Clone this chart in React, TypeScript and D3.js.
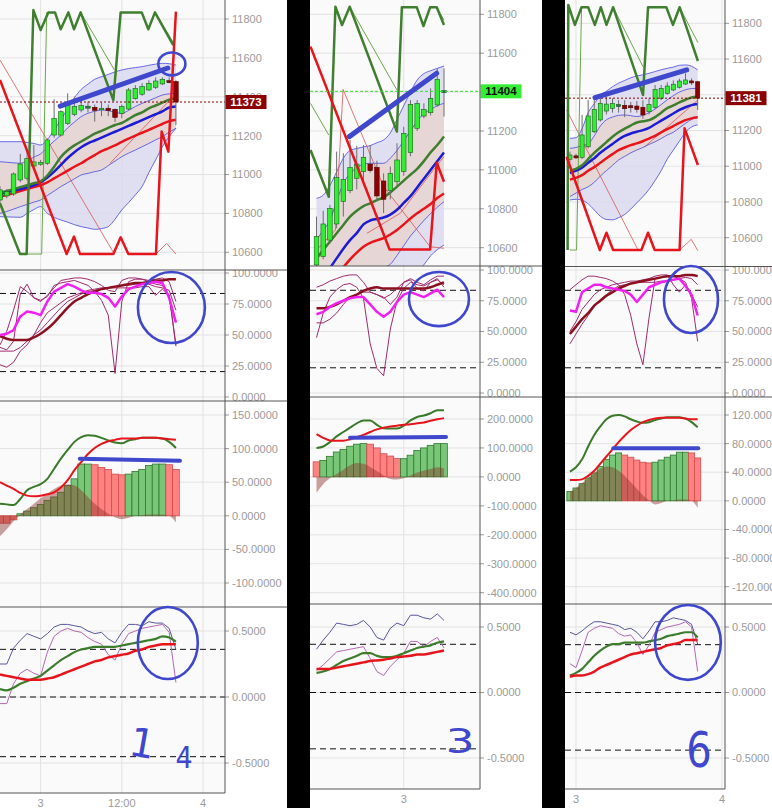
import React from 'react';
import * as d3 from 'd3';

type Candle = [number, number, number, number]; // open, high, low, close
type Pt = [number, number]; // bar index, value

// ---------------- left chart ----------------
const p1Candles: Candle[] = [
  [10869, 10940, 10850, 10921], [10890, 10925, 10878, 10912], [10900, 11010, 10890, 11003],
  [10972, 11106, 10960, 11054], [10981, 11120, 10970, 11082], [11044, 11152, 11035, 11065],
  [11053, 11075, 11045, 11063], [11058, 11185, 11050, 11178], [11203, 11387, 11190, 11289],
  [11203, 11330, 11195, 11323], [11263, 11418, 11255, 11358], [11310, 11400, 11300, 11349],
  [11332, 11380, 11320, 11356], [11346, 11375, 11320, 11347], [11346, 11360, 11272, 11330],
  [11337, 11370, 11300, 11341], [11341, 11360, 11300, 11329], [11335, 11340, 11270, 11294],
  [11315, 11360, 11290, 11349], [11337, 11445, 11330, 11435], [11390, 11460, 11385, 11443],
  [11413, 11470, 11405, 11452], [11435, 11485, 11430, 11469], [11449, 11500, 11440, 11481],
  [11466, 11500, 11460, 11490], [11478, 11500, 11470, 11477], [11478, 11485, 11255, 11373],
];
const p1Ema = [10905, 10915, 10925, 10935, 10945, 10955, 10965, 10995, 11040, 11090, 11125, 11150, 11170, 11190, 11210, 11225, 11240, 11255, 11265, 11285, 11305, 11320, 11340, 11355, 11370, 11385, 11392];
const p1Mid = [10900, 10910, 10918, 10926, 10935, 10945, 10960, 10985, 11015, 11050, 11085, 11115, 11140, 11160, 11175, 11190, 11205, 11220, 11235, 11250, 11265, 11280, 11295, 11310, 11325, 11345, 11350];
const p1Slow = [10885, 10895, 10905, 10915, 10925, 10935, 10945, 10960, 10980, 11000, 11020, 11040, 11058, 11080, 11100, 11120, 11135, 11150, 11168, 11185, 11200, 11215, 11230, 11245, 11260, 11275, 11282];
const p1OuterUp = [11169, 11169, 11169, 11169, 11165, 11160, 11152, 11180, 11230, 11281, 11340, 11395, 11438, 11465, 11490, 11503, 11515, 11528, 11538, 11545, 11550, 11555, 11562, 11568, 11572, 11570, 11563];
const p1OuterLo = [10783, 10782, 10781, 10780, 10800, 10820, 10835, 10800, 10780, 10766, 10755, 10742, 10732, 10725, 10718, 10722, 10732, 10770, 10818, 10855, 10895, 10938, 11010, 11075, 11143, 11195, 11238];
const p1InnerUp = [11066, 11063, 11060, 11058, 11070, 11090, 11106, 11140, 11172, 11203, 11240, 11270, 11298, 11315, 11325, 11332, 11328, 11320, 11315, 11330, 11350, 11366, 11380, 11395, 11409, 11415, 11418];
const p1InnerLo = [10800, 10810, 10822, 10835, 10846, 10858, 10869, 10892, 10915, 10938, 10958, 10978, 10998, 11006, 11015, 11023, 11046, 11069, 11092, 11110, 11126, 11143, 11160, 11178, 11195, 11218, 11238];
const p1ZzGreen: Pt[] = [[0, 10852], [2.96, 10591], [3.94, 10591], [4.93, 11846], [6.01, 11743], [7.14, 11834], [8.13, 11834], [8.97, 11747], [10.1, 11834], [10.94, 11747], [11.92, 11834], [16.75, 11383], [17.83, 11834], [20.94, 11834], [21.92, 11747], [22.9, 11834], [25.6, 11666]];
const p1ZzGreenThin: Pt[][] = [[[3.94, 10591], [6.16, 10591], [6.9, 11834]], [[11.92, 11834], [16.9, 11538]], [[22.9, 11834], [25.6, 11680]]];
const p1ZzRed: Pt[] = [[0, 11486], [9.85, 10591], [10.94, 10681], [11.82, 10591], [16.75, 10591], [17.83, 10677], [18.97, 10591], [23.05, 10591], [23.89, 11221], [24.88, 11118], [26, 11838]];
const p1RedThin: Pt[][] = [[[0, 11589], [16.75, 10600]], [[16.26, 11058], [25.6, 11401]], [[23.05, 10591], [24.63, 10646], [26, 10591]]];
const p1StochDark = [49, 47, 46, 46, 46, 48, 51, 55, 60, 66, 72, 77, 80, 83, 85, 87, 88, 89, 90, 91, 92, 92, 93, 94, 94, 95, 95];
const p1StochMag = [50, 51, 54, 65, 69, 68, 66, 77, 85, 88, 91, 89, 86, 84, 84, 83, 80, 73, 81, 87, 89, 91, 92, 93, 92, 80, 60];
const p1StochThin = [
  [40, 38, 45, 83, 91, 80, 78, 81, 90, 92, 93, 94, 92, 90, 85, 78, 66, 19, 77, 93, 95, 95, 93, 91, 90, 82, 41],
  [42, 53, 70, 89, 85, 80, 77, 82, 88, 94, 95, 96, 96, 95, 93, 90, 86, 85, 94, 96, 96, 95, 94, 95, 96, 93, 77],
  [26, 24, 28, 37, 42, 50, 60, 68, 72, 76, 80, 82, 84, 86, 87, 88, 88, 88, 88, 88, 88, 89, 89, 82, 87, 82, 42],
  [37, 37, 37, 40, 45, 50, 54, 60, 66, 72, 77, 80, 83, 85, 86, 87, 88, 89, 90, 90, 91, 91, 91, 89, 88, 86, 70],
];
const p1Hist = [-11, -11, -6, 3, 7, 12, 17, 23, 28, 35, 45, 55, 77, 77, 76, 72, 69, 62, 61, 62, 66, 69, 75, 77, 77, 76, 69];
const p1HistUp = [0, 0, 0, 1, 1, 1, 1, 1, 1, 1, 1, 1, 1, 1, 0, 0, 0, 0, 0, 1, 1, 1, 1, 1, 1, 0, 0];
const p1HistShade = [-30, -20, -8, 2, 10, 18, 26, 33, 40, 45, 47, 45, 38, 28, 18, 10, 3, -2, -5, -3, 0, 1, 2, 2, 2, 0, -10];
const p1MacdFast = [18, 17, 16, 25, 38, 43, 47, 55, 70, 85, 98, 110, 117, 120, 119, 116, 112, 109, 108, 112, 114, 116, 116, 116, 115, 110, 101];
const p1MacdSlow = [50, 45, 40, 34, 30, 29, 30, 32, 35, 42, 53, 68, 80, 92, 101, 107, 111, 113, 115, 115, 115, 116, 116, 116, 115, 114, 113];
const p1BotA = [0.25, 0.25, 0.37, 0.43, 0.48, 0.46, 0.44, 0.48, 0.53, 0.55, 0.55, 0.54, 0.53, 0.5, 0.48, 0.49, 0.44, 0.41, 0.49, 0.55, 0.55, 0.54, 0.57, 0.56, 0.56, 0.52, 0.36];
const p1BotB = [-0.05, -0.05, 0.1, 0.18, 0.21, 0.18, 0.16, 0.34, 0.46, 0.5, 0.52, 0.5, 0.49, 0.45, 0.42, 0.4, 0.32, 0.28, 0.4, 0.48, 0.5, 0.52, 0.53, 0.54, 0.55, 0.49, 0.11];
const p1BotGreen = [0.06, 0.05, 0.07, 0.1, 0.12, 0.14, 0.16, 0.2, 0.24, 0.28, 0.31, 0.34, 0.36, 0.37, 0.38, 0.38, 0.38, 0.38, 0.39, 0.4, 0.41, 0.42, 0.43, 0.44, 0.46, 0.45, 0.42];
const p1BotRed = [0.17, 0.16, 0.15, 0.14, 0.13, 0.13, 0.13, 0.14, 0.15, 0.17, 0.19, 0.21, 0.23, 0.25, 0.27, 0.28, 0.3, 0.31, 0.32, 0.33, 0.35, 0.36, 0.38, 0.39, 0.4, 0.4, 0.4];
const p1BotLevels = [0.361, 0, -0.452];
const p1MacdTicks = [-100, -50, 0, 50, 100, 150];
const p1TimeTicks = [{ i: 6, label: '3' }, { i: 18, label: '12:00' }, { i: 30, label: '4' }];
const p1Last = 11373;
const p1Trend: Pt[] = [[8.9, 11352], [24.8, 11548]];
const p1MacdMark: Pt[] = [[11.8, 84.8], [26.6, 81.8]];

// ---------------- middle chart ----------------
const p2Candles: Candle[] = [
  [10511, 10760, 10500, 10657], [10554, 10790, 10540, 10722], [10639, 10820, 10620, 10802],
  [10722, 11094, 10700, 10960], [10837, 11086, 10760, 10951], [10893, 11154, 10880, 11013],
  [10957, 11124, 10900, 11030], [10991, 11128, 10920, 11065], [11030, 11128, 10986, 10996],
  [11013, 11047, 10840, 10866], [10943, 10982, 10778, 10849], [10893, 11017, 10849, 10982],
  [10939, 11137, 10918, 11051], [10991, 11222, 10970, 11188], [11089, 11359, 11070, 11337],
  [11214, 11359, 11200, 11342], [11277, 11342, 11265, 11311], [11294, 11419, 11280, 11368],
  [11334, 11522, 11325, 11466], [11401, 11522, 11274, 11404],
];
const p2Ema = [10545, 10588, 10631, 10674, 10717, 10760, 10790, 10814, 10828, 10845, 10859, 10884, 10914, 10945, 10975, 11005, 11045, 11090, 11128, 11172];
const p2Mid = [10400, 10440, 10495, 10545, 10595, 10639, 10675, 10720, 10740, 10748, 10755, 10770, 10795, 10830, 10865, 10910, 10955, 11000, 11045, 11089];
const p2Slow = [10380, 10410, 10440, 10470, 10500, 10540, 10575, 10605, 10625, 10638, 10649, 10668, 10691, 10720, 10750, 10777, 10800, 10825, 10855, 10879];
const p2OuterUp = [10854, 10870, 10920, 10990, 11060, 11100, 11110, 11118, 11125, 11140, 11154, 11190, 11260, 11330, 11400, 11462, 11495, 11510, 11522, 11534];
const p2OuterLo = [10180, 10195, 10215, 10225, 10240, 10255, 10262, 10270, 10285, 10300, 10318, 10345, 10372, 10405, 10432, 10470, 10512, 10558, 10590, 10614];
const p2InnerUp = [10640, 10690, 10740, 10840, 10930, 10982, 11010, 11030, 11034, 11034, 11034, 11060, 11100, 11150, 11200, 11250, 11290, 11310, 11330, 11342];
const p2InnerLo = [10290, 10318, 10345, 10362, 10385, 10398, 10420, 10445, 10458, 10480, 10498, 10515, 10560, 10610, 10660, 10700, 10740, 10775, 10808, 10837];
const p2ZzGreen: Pt[] = [[-0.89, 11102], [1.83, 10862], [2.82, 11839], [3.81, 11745], [4.95, 11839], [11.98, 11197], [12.72, 11836], [14.95, 11836], [15.94, 11740], [16.93, 11836], [17.92, 11836], [19, 11745]];
const p2ZzGreenThin: Pt[][] = [[[-0.89, 11342], [1.83, 11179]], [[4.95, 11839], [11.98, 11411]], [[17.92, 11836], [19, 11770]]];
const p2ZzRed: Pt[] = [[-0.89, 11634], [10.89, 10591], [16.93, 10591], [17.92, 11037], [19, 10939]];
const p2RedThin: Pt[][] = [[[0, 10588], [2.82, 10691], [3.96, 11414], [10, 10914], [16.93, 10605], [19, 10597]], [[7.52, 10674], [12.48, 10777], [17.43, 11000], [19, 11068]]];
const p2StochDark = [69, 69, 70, 72, 75, 78, 80, 83, 85, 86, 85, 85, 85, 85, 85, 85, 85, 86, 88, 90];
const p2StochMag = [64, 66, 70, 73, 75, 77, 78, 78, 72, 66, 62, 66, 74, 80, 82, 80, 78, 81, 84, 78];
const p2StochThin = [
  [45, 65, 78, 84, 88, 89, 86, 77, 40, 20, 14, 52, 75, 85, 90, 88, 87, 90, 92, 88],
  [86, 88, 91, 93, 95, 96, 96, 90, 82, 80, 77, 80, 85, 90, 93, 90, 88, 92, 95, 95],
  [57, 57, 60, 65, 72, 78, 80, 82, 82, 80, 78, 72, 78, 90, 92, 85, 83, 90, 93, 86],
];
const p2Hist = [52, 57, 71, 86, 95, 106, 113, 115, 113, 100, 80, 72, 63, 63, 75, 91, 100, 109, 115, 115];
const p2HistUp = [0, 1, 1, 1, 1, 1, 1, 1, 0, 0, 0, 0, 0, 1, 1, 1, 1, 1, 1, 1];
const p2HistShade = [-55, -25, -5, 10, 25, 40, 48, 45, 34, 20, 5, -7, -9, -5, 5, 15, 22, 27, 33, 29];
const p2MacdFast = [100, 105, 120, 140, 155, 170, 185, 195, 195, 180, 168, 167, 167, 177, 195, 207, 212, 220, 230, 230];
const p2MacdSlow = [148, 135, 126, 125, 125, 130, 138, 145, 155, 164, 170, 174, 177, 180, 182, 185, 188, 194, 199, 203];
const p2BotA = [0.33, 0.4, 0.46, 0.53, 0.52, 0.51, 0.52, 0.55, 0.5, 0.42, 0.4, 0.49, 0.53, 0.51, 0.59, 0.59, 0.57, 0.56, 0.6, 0.55];
const p2BotB = [0.17, 0.21, 0.26, 0.31, 0.32, 0.33, 0.34, 0.35, 0.26, 0.16, 0.13, 0.2, 0.25, 0.3, 0.39, 0.39, 0.35, 0.39, 0.42, 0.34];
const p2BotGreen = [0.15, 0.16, 0.18, 0.21, 0.24, 0.26, 0.28, 0.3, 0.3, 0.28, 0.27, 0.27, 0.28, 0.3, 0.32, 0.34, 0.35, 0.36, 0.38, 0.39];
const p2BotRed = [0.18, 0.18, 0.18, 0.19, 0.2, 0.21, 0.22, 0.23, 0.24, 0.245, 0.25, 0.26, 0.27, 0.275, 0.28, 0.29, 0.29, 0.3, 0.31, 0.32];
const p2BotLevels = [0.368, 0, -0.43];
const p2MacdTicks = [-400, -300, -200, -100, 0, 100, 200];
const p2TimeTicks = [{ i: 13, label: '3' }];
const p2Last = 11404;
const p2Trend: Pt[] = [[4.89, 11171], [17.9, 11497]];
const p2MacdMark: Pt[] = [[5.0, 135], [19.3, 138]];

// ---------------- right chart ----------------
const p3Candles: Candle[] = [
  [11039, 11082, 11020, 11063], [11053, 11070, 11040, 11052], [11050, 11287, 11040, 11175],
  [11109, 11371, 11100, 11281], [11193, 11370, 11185, 11318], [11259, 11390, 11250, 11352],
  [11309, 11390, 11290, 11348], [11324, 11380, 11300, 11352], [11339, 11370, 11300, 11340],
  [11341, 11370, 11275, 11322], [11333, 11360, 11300, 11333], [11337, 11365, 11300, 11318],
  [11330, 11370, 11265, 11287], [11305, 11380, 11290, 11346], [11330, 11455, 11320, 11430],
  [11380, 11455, 11370, 11436], [11408, 11470, 11400, 11449], [11427, 11480, 11420, 11459],
  [11442, 11490, 11435, 11477], [11460, 11520, 11455, 11483], [11473, 11492, 11455, 11471],
  [11473, 11478, 11315, 11381],
];
const p3Ema = [10975, 10985, 11005, 11040, 11075, 11105, 11135, 11165, 11190, 11210, 11228, 11245, 11252, 11258, 11275, 11300, 11325, 11340, 11357, 11372, 11385, 11390];
const p3Mid = [10962, 10975, 10992, 11020, 11045, 11075, 11100, 11125, 11150, 11170, 11183, 11193, 11202, 11215, 11235, 11255, 11275, 11295, 11315, 11330, 11342, 11348];
const p3Slow = [10925, 10935, 10950, 10975, 10995, 11020, 11045, 11068, 11090, 11105, 11118, 11128, 11140, 11155, 11170, 11190, 11208, 11225, 11242, 11258, 11268, 11274];
const p3OuterUp = [11156, 11160, 11210, 11300, 11350, 11395, 11420, 11445, 11465, 11480, 11495, 11505, 11512, 11520, 11530, 11540, 11548, 11555, 11565, 11567, 11560, 11539];
const p3OuterLo = [10811, 10815, 10810, 10790, 10755, 10720, 10702, 10700, 10712, 10730, 10760, 10795, 10830, 10870, 10920, 10975, 11040, 11090, 11140, 11190, 11220, 11231];
const p3InnerUp = [11100, 11105, 11115, 11125, 11170, 11225, 11260, 11275, 11285, 11287, 11283, 11278, 11285, 11300, 11320, 11345, 11372, 11395, 11415, 11428, 11435, 11436];
const p3InnerLo = [10830, 10850, 10870, 10885, 10910, 10945, 10975, 11005, 11035, 11055, 11075, 11091, 11105, 11122, 11137, 11155, 11175, 11190, 11215, 11240, 11262, 11277];
const p3ZzGreen: Pt[] = [[-0.38, 10531], [-0.27, 11903], [0.82, 11791], [1.91, 11890], [3.0, 11890], [4.1, 11791], [5.08, 11890], [6.01, 11791], [7.1, 11890], [12.02, 11399], [12.84, 11890], [15.85, 11890], [16.94, 11791], [18.03, 11890], [21.04, 11589]];
const p3ZzGreenThin: Pt[][] = [[[0, 10531], [1.09, 10531], [1.91, 11890]], [[7.1, 11890], [12.02, 11557]], [[18.03, 11890], [21.04, 11692]]];
const p3ZzRed: Pt[] = [[-0.55, 11053], [4.92, 10531], [6.01, 10628], [7.1, 10531], [11.75, 10531], [12.84, 10628], [13.93, 10531], [18.03, 10531], [18.85, 11212], [21.04, 11007]];
const p3RedThin: Pt[][] = [[[-0.55, 11315], [11.2, 10531]], [[12.3, 11109], [21.04, 11371]], [[18.03, 10531], [19.95, 10591], [21.04, 10527]]];
const p3StochDark = [48, 54, 60, 65, 71, 75, 79, 82, 85, 87, 89, 90, 91, 92, 93, 94, 95, 95, 95, 96, 96, 95];
const p3StochMag = [67, 66, 82, 85, 88, 88, 86, 85, 84, 83, 80, 74, 80, 86, 88, 90, 91, 92, 93, 87, 80, 63];
const p3StochThin = [
  [84, 88, 92, 95, 95, 94, 93, 91, 88, 80, 63, 40, 23, 61, 93, 94, 95, 95, 93, 90, 77, 42],
  [50, 58, 68, 74, 80, 84, 86, 88, 89, 90, 91, 91, 92, 93, 95, 96, 96, 88, 82, 88, 80, 70],
  [40, 48, 56, 63, 70, 76, 80, 84, 87, 88, 89, 90, 90, 90, 90, 91, 91, 92, 93, 94, 93, 88],
];
const p3Hist = [13, 18, 24, 32, 39, 48, 58, 64, 67, 64, 61, 57, 54, 53, 54, 57, 61, 64, 68, 68, 67, 60];
const p3HistUp = [1, 1, 1, 1, 1, 1, 1, 1, 1, 0, 0, 0, 0, 0, 1, 1, 1, 1, 1, 1, 0, 0];
const p3HistShade = [12, 18, 25, 32, 39, 45, 48, 47, 42, 35, 26, 17, 8, 1, -5, -3, 0, 1, 2, 2, 0, -10];
const p3MacdFast = [41, 47, 58, 76, 92, 104, 114, 119, 120, 118, 114, 111, 109, 110, 113, 115, 117, 117, 117, 115, 110, 103];
const p3MacdSlow = [29, 29, 30, 35, 42, 52, 62, 72, 82, 91, 99, 105, 110, 113, 115, 116, 116, 116, 116, 115, 114, 114];
const p3BotA = [0.46, 0.44, 0.47, 0.51, 0.54, 0.54, 0.53, 0.52, 0.51, 0.48, 0.49, 0.46, 0.41, 0.47, 0.54, 0.54, 0.55, 0.57, 0.56, 0.55, 0.52, 0.37];
const p3BotB = [0.22, 0.19, 0.32, 0.46, 0.49, 0.51, 0.5, 0.49, 0.45, 0.43, 0.44, 0.38, 0.29, 0.36, 0.46, 0.48, 0.5, 0.51, 0.52, 0.54, 0.5, 0.16];
const p3BotGreen = [0.13, 0.15, 0.18, 0.23, 0.28, 0.32, 0.35, 0.37, 0.37, 0.38, 0.38, 0.38, 0.38, 0.39, 0.4, 0.41, 0.43, 0.44, 0.45, 0.46, 0.46, 0.42];
const p3BotRed = [0.12, 0.13, 0.13, 0.14, 0.16, 0.19, 0.21, 0.23, 0.25, 0.27, 0.29, 0.3, 0.31, 0.32, 0.33, 0.34, 0.36, 0.37, 0.38, 0.4, 0.4, 0.4];
const p3BotLevels = [0.365, 0, -0.44];
const p3MacdTicks = [-120, -80, -40, 0, 40, 80, 120];
const p3TimeTicks = [{ i: 1, label: '3' }, { i: 25, label: '4' }];
const p3Last = 11381;
const p3Trend: Pt[] = [[4.12, 11384], [19.2, 11539]];
const p3MacdMark: Pt[] = [[7.13, 73.5], [21.1, 73.5]];

const priceTicks = [10600, 10800, 11000, 11200, 11400, 11600, 11800];
const oscTicks = [0, 25, 50, 75, 100];
const oscLevels = [83.5, 20.5];
const botTicks = [-0.5, 0, 0.5];

const FONT = "'Liberation Sans', Arial, sans-serif";
const INK = '#3f48cc';
const RED = '#e8141c';

type Ring = [number, number, number, number]; // cx, cy, rx, ry in data units
type Note = { text: string; at: Pt; size: number; sx: number; rot: number };

interface PanelCfg {
  id: string;
  left: number; plotRight: number; right: number;
  xDomain: [number, number]; xRange: [number, number];
  rows: number[];
  priceRange: [number, number]; oscRange: [number, number];
  macdDomain: [number, number]; macdRange: [number, number]; macdTicks: number[];
  botRange: [number, number]; botLevels: number[];
  xLabelY: number; timeTicks: { i: number; label: string }[];
  candles: Candle[]; ema: number[]; mid: number[]; slow: number[];
  outerUp: number[]; outerLo: number[]; innerUp: number[]; innerLo: number[];
  zzGreen: Pt[]; zzGreenThin: Pt[][]; zzRed: Pt[]; redThin: Pt[][];
  stochDark: number[]; stochMag: number[]; stochThin: number[][];
  hist: number[]; histUp: number[]; histShade: number[]; macdFast: number[]; macdSlow: number[];
  botA: number[]; botB: number[]; botGreen: number[]; botRed: number[];
  last: number; lastFill: string; lastText: string; lastLine: string; lastDash: string;
  trend: Pt[]; macdMark: Pt[];
  priceRing?: Ring; oscRing?: Ring; botRing?: Ring;
  notes: Note[];
}

const panels: PanelCfg[] = [
  {
    id: 'a', left: 0, plotRight: 225, right: 287,
    xDomain: [0, 30], xRange: [0, 203], rows: [0, 270, 401, 607, 793],
    priceRange: [252.3, 19], oscRange: [397, 273],
    macdDomain: [-100, 150], macdRange: [583, 415], macdTicks: p1MacdTicks,
    botRange: [763, 631], botLevels: p1BotLevels, xLabelY: 807, timeTicks: p1TimeTicks,
    candles: p1Candles, ema: p1Ema, mid: p1Mid, slow: p1Slow,
    outerUp: p1OuterUp, outerLo: p1OuterLo, innerUp: p1InnerUp, innerLo: p1InnerLo,
    zzGreen: p1ZzGreen, zzGreenThin: p1ZzGreenThin, zzRed: p1ZzRed, redThin: p1RedThin,
    stochDark: p1StochDark, stochMag: p1StochMag, stochThin: p1StochThin,
    hist: p1Hist, histUp: p1HistUp, histShade: p1HistShade, macdFast: p1MacdFast, macdSlow: p1MacdSlow,
    botA: p1BotA, botB: p1BotB, botGreen: p1BotGreen, botRed: p1BotRed,
    last: p1Last, lastFill: '#8b0000', lastText: '#fff', lastLine: '#8b0000', lastDash: '2,2',
    trend: p1Trend, macdMark: p1MacdMark,
    priceRing: [25.4, 11569, 2.0, 59], oscRing: [25.33, 72.2, 4.95, 28.6], botRing: [24.8, 0.409, 4.43, 0.273],
    notes: [
      { text: '1', at: [20.7, -0.455], size: 40, sx: 1, rot: 10 },
      { text: '4', at: [27.2, -0.54], size: 30, sx: 0.9, rot: 0 },
    ],
  },
  {
    id: 'b', left: 310, plotRight: 480, right: 542,
    xDomain: [0, 19], xRange: [316.5, 444], rows: [0, 266, 397, 604, 789],
    priceRange: [247.7, 14.3], oscRange: [393, 270],
    macdDomain: [-400, 200], macdRange: [592.7, 419], macdTicks: p2MacdTicks,
    botRange: [758, 627], botLevels: p2BotLevels, xLabelY: 803, timeTicks: p2TimeTicks,
    candles: p2Candles, ema: p2Ema, mid: p2Mid, slow: p2Slow,
    outerUp: p2OuterUp, outerLo: p2OuterLo, innerUp: p2InnerUp, innerLo: p2InnerLo,
    zzGreen: p2ZzGreen, zzGreenThin: p2ZzGreenThin, zzRed: p2ZzRed, redThin: p2RedThin,
    stochDark: p2StochDark, stochMag: p2StochMag, stochThin: p2StochThin,
    hist: p2Hist, histUp: p2HistUp, histShade: p2HistShade, macdFast: p2MacdFast, macdSlow: p2MacdSlow,
    botA: p2BotA, botB: p2BotB, botGreen: p2BotGreen, botRed: p2BotRed,
    last: p2Last, lastFill: '#33ee33', lastText: '#111', lastLine: '#33dd33', lastDash: '3,2',
    trend: p2Trend, macdMark: p2MacdMark,
    oscRing: [18.25, 76.4, 4.47, 22],
    notes: [{ text: '3', at: [21.4, -0.46], size: 34, sx: 1.35, rot: 0 }],
  },
  {
    id: 'c', left: 565, plotRight: 725, right: 772,
    xDomain: [1, 25], xRange: [576, 722], rows: [0, 266.5, 397, 604, 789],
    priceRange: [237.7, 23.3], oscRange: [393, 270],
    macdDomain: [-120, 120], macdRange: [586.7, 415], macdTicks: p3MacdTicks,
    botRange: [758, 627], botLevels: p3BotLevels, xLabelY: 803, timeTicks: p3TimeTicks,
    candles: p3Candles, ema: p3Ema, mid: p3Mid, slow: p3Slow,
    outerUp: p3OuterUp, outerLo: p3OuterLo, innerUp: p3InnerUp, innerLo: p3InnerLo,
    zzGreen: p3ZzGreen, zzGreenThin: p3ZzGreenThin, zzRed: p3ZzRed, redThin: p3RedThin,
    stochDark: p3StochDark, stochMag: p3StochMag, stochThin: p3StochThin,
    hist: p3Hist, histUp: p3HistUp, histShade: p3HistShade, macdFast: p3MacdFast, macdSlow: p3MacdSlow,
    botA: p3BotA, botB: p3BotB, botGreen: p3BotGreen, botRed: p3BotRed,
    last: p3Last, lastFill: '#8b0000', lastText: '#fff', lastLine: '#8b0000', lastDash: '2,2',
    trend: p3Trend, macdMark: p3MacdMark,
    oscRing: [19.9, 76, 4.44, 27.2], botRing: [19.4, 0.382, 5.4, 0.286],
    notes: [{ text: '6', at: [21.2, -0.569], size: 50, sx: 0.8, rot: 0 }],
  },
];

const fmt4 = (v: number) => v.toFixed(4);
const fmt0 = (v: number) => String(v);

function Panel({ p }: { p: PanelCfg }) {
  const [rTop, rOsc, rMacd, rBot, rEnd] = p.rows;
  const x = d3.scaleLinear().domain(p.xDomain).range(p.xRange);
  const step = x(1) - x(0);
  const yP = d3.scaleLinear().domain([10600, 11800]).range(p.priceRange);
  const yO = d3.scaleLinear().domain([0, 100]).range(p.oscRange);
  const yM = d3.scaleLinear().domain(p.macdDomain).range(p.macdRange);
  const yB = d3.scaleLinear().domain([-0.5, 0.5]).range(p.botRange);

  // price labels hidden behind the last-price box are left out
  const shownPrice = priceTicks.filter(t => Math.abs(yP(t) - yP(p.last)) > 4.5);
  const rows = [
    { key: 'price', top: rTop, bottom: rOsc, y: yP, ticks: priceTicks, labels: shownPrice, fmt: fmt0 },
    { key: 'osc', top: rOsc, bottom: rMacd, y: yO, ticks: oscTicks, labels: oscTicks, fmt: fmt4 },
    { key: 'macd', top: rMacd, bottom: rBot, y: yM, ticks: p.macdTicks, labels: p.macdTicks, fmt: fmt4 },
    { key: 'bot', top: rBot, bottom: rEnd, y: yB, ticks: botTicks, labels: botTicks, fmt: fmt4 },
  ];

  const series = (y: d3.ScaleLinear<number, number>, data: number[], curve: d3.CurveFactory = d3.curveLinear) =>
    d3.line<number>().x((_, i) => x(i)).y(d => y(d)).curve(curve)(data) || '';
  const path = (y: d3.ScaleLinear<number, number>, data: Pt[]) =>
    d3.line<Pt>().x(d => x(d[0])).y(d => y(d[1]))(data) || '';
  const band = (hi: number[], lo: number[]) =>
    d3.area<number>().x((_, i) => x(i)).y0((_, i) => yP(lo[i])).y1(d => yP(d)).curve(d3.curveMonotoneX)(hi) || '';
  const shade = d3.area<number>().x((_, i) => x(i)).y0(yM(0)).y1(d => yM(d)).curve(d3.curveMonotoneX)(p.histShade) || '';
  const ring = (y: d3.ScaleLinear<number, number>, r: Ring) => (
    <ellipse cx={x(r[0])} cy={y(r[1])} rx={Math.abs(x(r[0] + r[2]) - x(r[0]))} ry={Math.abs(y(r[1] + r[3]) - y(r[1]))}
      fill="none" stroke={INK} strokeWidth={2.6} />
  );
  const clip = (k: string) => `url(#${p.id}-${k})`;
  const plotW = p.plotRight - p.left;
  const bw = step * 0.68;

  return (
    <g>
      <defs>
        {rows.map(r => (
          <clipPath id={`${p.id}-${r.key}`} key={r.key}>
            <rect x={p.left} y={r.top} width={plotW} height={r.bottom - r.top} />
          </clipPath>
        ))}
        {rows.map(r => (
          <clipPath id={`${p.id}-${r.key}-ax`} key={r.key + 'ax'}>
            <rect x={p.plotRight} y={r.top} width={p.right - p.plotRight} height={r.bottom - r.top} />
          </clipPath>
        ))}
      </defs>
      <rect x={p.left} y={0} width={p.right - p.left} height={808} fill="#ffffff" />
      <rect x={p.left} y={0} width={plotW} height={rEnd} fill="#fafafa" />

      {/* grid */}
      {rows.map(r => (
        <g key={'g' + r.key} clipPath={clip(r.key)}>
          {r.ticks.map(t => (
            <line key={t} x1={p.left} x2={p.plotRight} y1={r.y(t)} y2={r.y(t)} stroke="#e2e2e2" />
          ))}
          {p.timeTicks.map(t => (
            <line key={t.label} x1={x(t.i)} x2={x(t.i)} y1={r.top} y2={r.bottom} stroke="#e2e2e2" />
          ))}
        </g>
      ))}

      {/* price */}
      <g clipPath={clip('price')}>
        <path d={band(p.outerUp, p.outerLo)} fill="#d9d9ef" fillOpacity={0.85} />
        <path d={band(p.innerUp, p.innerLo)} fill="#e9d3cc" fillOpacity={0.75} />
        {[p.outerUp, p.outerLo, p.innerUp, p.innerLo].map((s, k) => (
          <path key={k} d={series(yP, s, d3.curveMonotoneX)} fill="none" stroke="#4848e0" strokeWidth={0.8} />
        ))}
        {p.redThin.map((s, k) => <path key={k} d={path(yP, s)} fill="none" stroke="#d84a4a" strokeOpacity={0.75} strokeWidth={1} />)}
        {p.zzGreenThin.map((s, k) => <path key={k} d={path(yP, s)} fill="none" stroke="#6aa84a" strokeWidth={1} />)}
        <path d={series(yP, p.slow, d3.curveMonotoneX)} fill="none" stroke={RED} strokeWidth={2.5} />
        <path d={series(yP, p.mid, d3.curveMonotoneX)} fill="none" stroke="#1c1cd2" strokeWidth={2.5} />
        <path d={series(yP, p.ema, d3.curveMonotoneX)} fill="none" stroke="#3e7e2e" strokeWidth={2.5} />
        {p.candles.map((c, i) => {
          const [o, h, l, cl] = c;
          const doji = Math.abs(cl - o) < 4;
          const up = cl > o;
          const top = yP(Math.max(o, cl));
          const bot = yP(Math.min(o, cl));
          const fill = doji ? (up ? '#2f6f4f' : '#7a1010') : up ? '#2ef02e' : '#8b0000';
          return (
            <g key={i}>
              <line x1={x(i)} x2={x(i)} y1={yP(h)} y2={yP(l)} stroke="#6e6e6e" strokeWidth={1} />
              <rect x={x(i) - bw / 2} y={doji ? (top + bot) / 2 - 1 : top} width={bw} height={doji ? 2 : Math.max(1.5, bot - top)}
                fill={fill} stroke={up ? '#1b5c1b' : '#5a0000'} strokeWidth={0.6} />
            </g>
          );
        })}
        <path d={path(yP, p.zzGreen)} fill="none" stroke="#3f7f2f" strokeWidth={2.5} strokeLinejoin="round" />
        <path d={path(yP, p.zzRed)} fill="none" stroke={RED} strokeWidth={2.5} strokeLinejoin="round" />
        <line x1={p.left} x2={p.plotRight} y1={yP(p.last)} y2={yP(p.last)} stroke={p.lastLine} strokeDasharray={p.lastDash} />
      </g>

      {/* oscillator */}
      <g clipPath={clip('osc')}>
        {oscLevels.map(v => (
          <line key={v} x1={p.left} x2={p.plotRight} y1={yO(v)} y2={yO(v)} stroke="#111" strokeDasharray="6,4" />
        ))}
        {p.stochThin.map((s, k) => <path key={k} d={series(yO, s)} fill="none" stroke="#a02a6e" strokeWidth={1} />)}
        <path d={series(yO, p.stochDark, d3.curveMonotoneX)} fill="none" stroke="#8b1020" strokeWidth={2.5} />
        <path d={series(yO, p.stochMag)} fill="none" stroke="#f020f0" strokeWidth={2.5} strokeLinejoin="round" />
      </g>

      {/* macd */}
      <g clipPath={clip('macd')}>
        {p.hist.map((v, i) => (
          <rect key={i} x={x(i) - step / 2} width={step} y={Math.min(yM(v), yM(0))} height={Math.abs(yM(v) - yM(0))}
            fill={p.histUp[i] ? '#79c679' : '#ff8282'} stroke={p.histUp[i] ? '#2e7a2e' : '#d84a4a'} strokeWidth={0.8} />
        ))}
        <path d={shade} fill="rgb(140,52,40)" fillOpacity={0.45} />
        <path d={series(yM, p.macdFast, d3.curveMonotoneX)} fill="none" stroke="#3a7a2a" strokeWidth={2} />
        <path d={series(yM, p.macdSlow, d3.curveMonotoneX)} fill="none" stroke={RED} strokeWidth={2} />
      </g>

      {/* bottom */}
      <g clipPath={clip('bot')}>
        {p.botLevels.map(v => (
          <line key={v} x1={p.left} x2={p.plotRight} y1={yB(v)} y2={yB(v)} stroke="#111" strokeDasharray="6,4" />
        ))}
        <path d={series(yB, p.botA)} fill="none" stroke="#56569a" strokeWidth={1} />
        <path d={series(yB, p.botB)} fill="none" stroke="#b468b4" strokeWidth={1} />
        <path d={series(yB, p.botGreen, d3.curveMonotoneX)} fill="none" stroke="#3c7d2c" strokeWidth={2.2} />
        <path d={series(yB, p.botRed, d3.curveMonotoneX)} fill="none" stroke={RED} strokeWidth={2.5} />
      </g>

      {/* axis labels */}
      {rows.map(r => (
        <g key={'l' + r.key} clipPath={clip(r.key + '-ax')}>
          {r.ticks.map(t => (
            <line key={t} x1={p.plotRight} x2={p.plotRight + 4} y1={r.y(t)} y2={r.y(t)} stroke="#999" />
          ))}
          {r.labels.map(t => (
            <text key={t} x={p.plotRight + 7} y={r.y(t)} dy="0.36em" fontSize={11} fill="#9a9a9a">{r.fmt(t)}</text>
          ))}
        </g>
      ))}
      <rect x={p.plotRight + 0.5} y={yP(p.last) - 7} width={41} height={14} fill={p.lastFill} />
      <text x={p.plotRight + 21} y={yP(p.last)} dy="0.36em" textAnchor="middle" fontSize={11.5} fontWeight="bold" fill={p.lastText}>
        {p.last}
      </text>

      {/* frame */}
      {rows.slice(1).map(r => (
        <line key={'s' + r.key} x1={p.left} x2={p.right} y1={r.top} y2={r.top} stroke="#555" />
      ))}
      <line x1={p.left} x2={p.plotRight} y1={rEnd} y2={rEnd} stroke="#555" />
      <line x1={p.plotRight} x2={p.plotRight} y1={0} y2={rEnd} stroke="#555" />
      {p.timeTicks.map(t => (
        <text key={t.label} x={x(t.i)} y={p.xLabelY} textAnchor="middle" fontSize={11} fill="#9a9a9a">{t.label}</text>
      ))}

      {/* hand drawn marks */}
      <path d={path(yP, p.trend)} stroke={INK} strokeWidth={5} strokeLinecap="round" fill="none" />
      <path d={path(yM, p.macdMark)} stroke={INK} strokeWidth={4} strokeLinecap="round" fill="none" />
      {p.priceRing && ring(yP, p.priceRing)}
      {p.oscRing && ring(yO, p.oscRing)}
      {p.botRing && ring(yB, p.botRing)}
      {p.notes.map(n => (
        <text key={n.text} transform={`translate(${x(n.at[0])},${yB(n.at[1])}) rotate(${n.rot}) scale(${n.sx},1)`}
          textAnchor="middle" fontSize={n.size} fill={INK} fontFamily="'DejaVu Sans', sans-serif">{n.text}</text>
      ))}
    </g>
  );
}

export default function App() {
  return (
    <svg width={772} height={808} style={{ position: 'absolute', left: 0, top: 0 }} fontFamily={FONT}>
      <rect width={772} height={808} fill="#000" />
      {panels.map(p => <Panel key={p.id} p={p} />)}
    </svg>
  );
}
